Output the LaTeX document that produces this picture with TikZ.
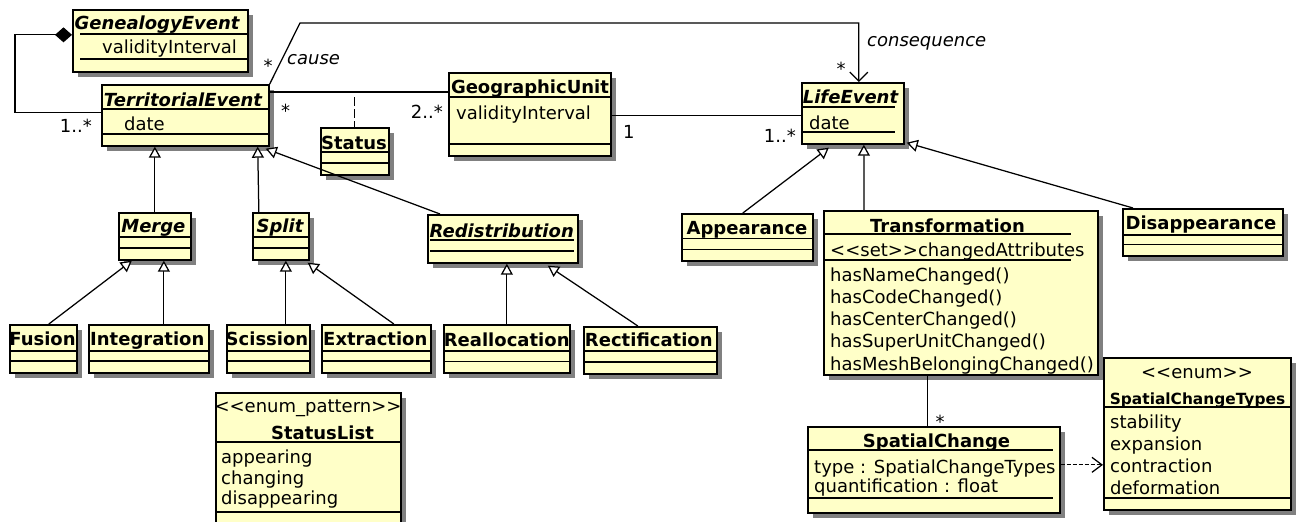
\documentclass[tikz,border=0pt]{standalone}
\usepackage{fontspec}
\setmainfont[Ligatures=TeXOff]{DejaVu Sans}
\usetikzlibrary{arrows.meta,shadows}
\definecolor{umlfill}{HTML}{FFFFC8}
\definecolor{shadowgray}{HTML}{808080}
\newcommand{\umlbox}[5]{\node[cls, minimum width={#4pt-#2pt}, minimum height={#5pt-#3pt}] (#1) at (#2,#3) {};}
\newcommand{\sepline}[3]{\draw[sep] (#1,#3) -- (#2,#3);}
\begin{document}
\begin{tikzpicture}[x=1pt,y=-1pt,
  cls/.style={draw, line width=1.7pt, fill=umlfill, inner sep=0pt, anchor=north west,
    drop shadow={shadow xshift=5pt,shadow yshift=-5pt,opacity=1,fill=shadowgray}},
  sep/.style={line width=1.5pt},
  txt/.style={inner sep=0pt, font=\fontsize{18}{21}\selectfont},
  ttl/.style={inner sep=0pt, anchor=base, font=\fontsize{18}{21}\selectfont\bfseries},
  attl/.style={inner sep=0pt, anchor=base, font=\fontsize{18}{21}\selectfont\bfseries\itshape},
  attr/.style={txt, anchor=base west},
  itl/.style={inner sep=0pt, anchor=base west, font=\fontsize{18}{21}\selectfont\itshape},
  assoc/.style={line width=1.25pt},
  gen/.style={line width=1.25pt, -{Triangle[length=11pt,width=12pt,fill=white,line width=1.25pt]}},
]
\useasboundingbox (0,0) rectangle (1302,522);

% GenealogyEvent
\umlbox{genea}{72}{9}{247}{71}
\node[attl] (genea-t) at (157,30) {GenealogyEvent};
\sepline{80}{247}{34}\sepline{80}{247}{59}
\node[attr] (genea-a) at (102,53.5) {validityInterval};

% TerritorialEvent
\umlbox{terr}{101}{84}{268}{145}
\node[attl] (terr-t) at (183,106) {TerritorialEvent};
\sepline{101}{268}{109}\sepline{101}{268}{134}
\node[attr] (terr-a) at (124,130) {date};

% Status
\umlbox{status}{320}{127}{388}{174}
\node[ttl] (status-t) at (354,149) {Status};
\sepline{320}{388}{152}\sepline{320}{388}{163}

% GeographicUnit
\umlbox{geo}{448}{72}{610}{155}
\node[ttl] (geo-t) at (530,93) {GeographicUnit};
\sepline{448}{610}{97}\sepline{448}{610}{144}
\node[attr] (geo-a) at (456,119) {validityInterval};

% LifeEvent
\umlbox{life}{801}{82}{903}{143}
\node[attl] (life-t) at (850.5,103) {LifeEvent};
\sepline{801}{895}{107}\sepline{801}{895}{132}
\node[attr] (life-a) at (809,129) {date};

% Merge, Split, Redistribution
\umlbox{merge}{118}{212}{190}{259}
\node[attl] (merge-t) at (153.4,232) {Merge};
\sepline{118}{190}{237}\sepline{118}{190}{248}
\umlbox{split}{252}{212}{308}{259}
\node[attl] (split-t) at (280,232) {Split};
\sepline{252}{308}{237}\sepline{252}{308}{248}
\umlbox{redis}{427}{214}{577}{262}
\node[attl] (redis-t) at (501.7,237) {Redistribution};
\sepline{430}{574}{240}\sepline{430}{574}{251}

% leaves
\umlbox{fusion}{9}{324}{76}{372}
\node[ttl] (fusion-t) at (42.5,345) {Fusion};
\sepline{9}{76}{351}\sepline{9}{76}{361}
\umlbox{integ}{88}{324}{208}{372}
\node[ttl] (integ-t) at (147.3,345) {Integration};
\sepline{88}{208}{351}\sepline{88}{208}{361}
\umlbox{sciss}{226}{324}{309}{372}
\node[ttl] (sciss-t) at (267,345) {Scission};
\sepline{226}{309}{351}\sepline{226}{309}{361}
\umlbox{extr}{321}{324}{430}{372}
\node[ttl] (extr-t) at (375.3,345) {Extraction};
\sepline{321}{430}{351}\sepline{321}{430}{361}
\umlbox{realloc}{443}{324}{569}{372}
\node[ttl] (realloc-t) at (506.7,346) {Reallocation};
\sepline{443}{569}{351}\sepline{443}{569}{361.7}
\umlbox{rectif}{583}{326}{716}{373}
\node[ttl] (rectif-t) at (648.8,346) {Rectification};
\sepline{583}{716}{351}\sepline{583}{716}{362}

% Appearance, Transformation, Disappearance
\umlbox{app}{681}{213}{812}{260}
\node[ttl] (app-t) at (747,234.5) {Appearance};
\sepline{681}{812}{238.3}\sepline{681}{812}{249.3}
\umlbox{trans}{823}{210}{1097}{374}
\node[ttl] (trans-t) at (947.5,232) {Transformation};
\sepline{823}{1071}{234}\sepline{823}{1071}{260}
\node[attr] (trans-a) at (830,256.3) {<<set>>changedAttributes};
\node[attr] (trans-m1) at (830,281.6) {hasNameChanged()};
\node[attr] (trans-m2) at (830,303.7) {hasCodeChanged()};
\node[attr] (trans-m3) at (830,325.8) {hasCenterChanged()};
\node[attr] (trans-m4) at (830,347.9) {hasSuperUnitChanged()};
\node[attr] (trans-m5) at (830,370) {hasMeshBelongingChanged()};
\umlbox{dis}{1122}{208}{1282}{255}
\node[ttl] (dis-t) at (1201,229.5) {Disappearance};
\sepline{1122}{1282}{235}\sepline{1122}{1282}{244.3}

% SpatialChange
\umlbox{sc}{807}{426}{1059}{512}
\node[ttl] (sc-t) at (936.5,447.8) {SpatialChange};
\sepline{807}{1053}{450}\sepline{807}{1053}{498}
\node[attr] (sc-a1) at (814,473) {type : SpatialChangeTypes};
\node[attr] (sc-a2) at (814,492.6) {quantification : float};

% SpatialChangeTypes
\umlbox{sct}{1103}{357}{1290}{509}
\node[txt, anchor=base] (sct-s) at (1197,378.5) {<<enum>>};
\node[inner sep=0pt, anchor=base, font=\fontsize{15.4}{18}\selectfont\bfseries] (sct-t) at (1197.5,404.3) {SpatialChangeTypes};
\sepline{1103}{1290}{407}\sepline{1103}{1290}{498}
\node[attr] (sct-1) at (1110,428.3) {stability};
\node[attr] (sct-2) at (1110,450.3) {expansion};
\node[attr] (sct-3) at (1110,472.4) {contraction};
\node[attr] (sct-4) at (1110,494.5) {deformation};

% StatusList
\begin{scope}
\clip (0,0) rectangle (1302,522);
\umlbox{slist}{215}{392}{400}{545}
\node[txt, anchor=base] (slist-s) at (308,412.5) {<<enum\_pattern>>};
\node[ttl] (slist-t) at (322.5,439.5) {StatusList};
\sepline{215}{400}{442}\sepline{215}{400}{512}
\node[attr] (slist-1) at (221,463.3) {appearing};
\node[attr] (slist-2) at (221,484) {changing};
\node[attr] (slist-3) at (221,504.5) {disappearing};
\end{scope}

% ---- connectors ----
\draw[assoc, {Diamond[length=17pt,width=15pt]}-] ([yshift=6pt]genea.west) -- ++(-57,0) |- ([yshift=2.5pt]terr.west);

\coordinate (ta) at ([yshift=-8pt]terr.north east);
\draw[assoc] (ta) -- (ta -| geo.west);
\coordinate (sa) at (status.north |- ta);
\draw[assoc, dash pattern=on 9pt off 3pt] ([yshift=-5pt]sa) -- (status.north);

\coordinate (bend) at (300,23);
\draw[assoc, -{Straight Barb[length=9pt,width=18pt,line width=1.25pt]}] (terr.north east) -- (bend) -| ([xshift=6pt]life.north);

\coordinate (gl) at ([yshift=-1.5pt]geo.east);
\draw[assoc] (gl) -- (gl -| life.west);

\draw[gen] (merge.north) -- (merge.north |- terr.south);
\draw[gen] ([xshift=-22pt]split.north) -- ([xshift=-12pt]terr.south east);
\draw[gen] ([xshift=13pt]redis.north west) -- ([xshift=-4pt,yshift=-2pt]terr.south east);
\draw[gen] ([xshift=5.5pt]fusion.north) -- ([xshift=-23pt]merge.south);
\draw[gen] ([xshift=15pt]integ.north) -- ([xshift=9pt]merge.south);
\draw[gen] ([xshift=17.5pt]sciss.north) -- ([xshift=5pt]split.south);
\draw[gen] ([xshift=17.5pt]extr.north) -- ([xshift=-2pt,yshift=-2pt]split.south east);
\draw[gen] (realloc.north) -- (realloc.north |- redis.south);
\draw[gen] ([xshift=-12.5pt]rectif.north) -- ([xshift=45pt,yshift=-2pt]redis.south);
\draw[gen] ([xshift=-4.5pt]app.north) -- ([xshift=-24pt,yshift=-3pt]life.south);
\draw[gen] ([xshift=41pt]trans.north west) -- ([xshift=11pt]life.south);
\draw[gen] ([xshift=11pt]dis.north west) -- ([xshift=2pt,yshift=2pt]life.south east);

\coordinate (tsx) at ([xshift=-6pt]sc.north);
\draw[assoc] (tsx |- trans.south) -- (tsx);

\coordinate (dp) at ([yshift=5pt]sc.east);
\draw[assoc, dash pattern=on 4pt off 2pt, -{Straight Barb[length=10pt,width=15pt,line width=1.25pt]}] (dp) -- (dp -| sct.west);

% ---- labels ----
\node[txt, anchor=base east] (m1) at (92,132) {1..*};
\node[txt, anchor=base] (m2) at (268,72) {*};
\node[itl] (cause) at (287,64) {cause};
\node[txt, anchor=base] (m3) at (285.5,117) {*};
\node[txt, anchor=base east] (m4) at (443,118) {2..*};
\node[txt, anchor=base west] (m5) at (623,138) {1};
\node[txt, anchor=base east] (m6) at (796,142) {1..*};
\node[txt, anchor=base] (m7) at (841,75) {*};
\node[itl] (conseq) at (867,46) {consequence};
\node[txt, anchor=base] (m8) at (940,428) {*};
\end{tikzpicture}
\end{document}
